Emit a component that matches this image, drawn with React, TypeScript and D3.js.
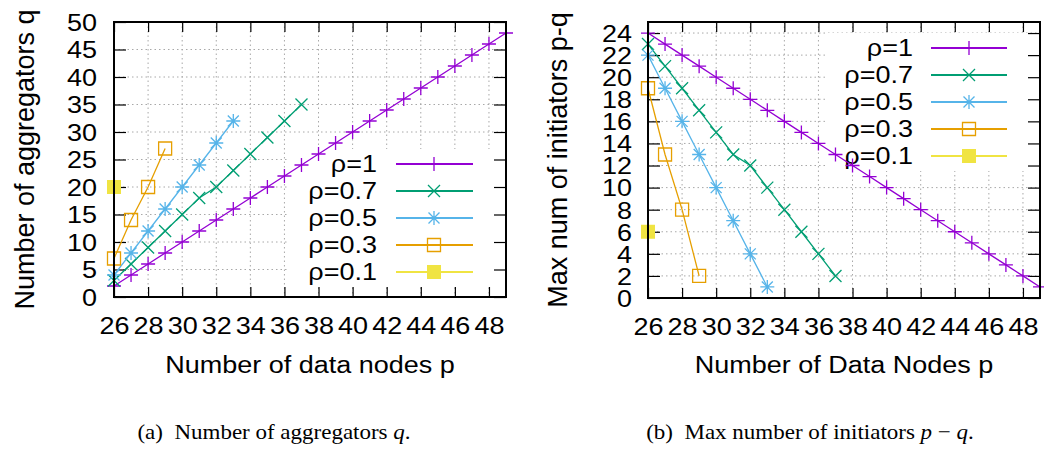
import React, { useEffect, useRef } from 'react';
import * as d3 from 'd3';

// data nodes p for each rho, and the values
const pRho1 = [26, 27, 28, 29, 30, 31, 32, 33, 34, 35, 36, 37, 38, 39, 40, 41, 42, 43, 44, 45, 46, 47, 48, 49];
const pRho07 = [26, 27, 28, 29, 30, 31, 32, 33, 34, 35, 36, 37];
const pRho05 = [26, 27, 28, 29, 30, 31, 32, 33];
const pRho03 = [26, 27, 28, 29];
const pRho01 = [26];

const aggRho1 = [2, 4, 6, 8, 10, 12, 14, 16, 18, 20, 22, 24, 26, 28, 30, 32, 34, 36, 38, 40, 42, 44, 46, 48];
const aggRho07 = [3, 6, 9, 12, 15, 18, 20, 23, 26, 29, 32, 35];
const aggRho05 = [4, 8, 12, 16, 20, 24, 28, 32];
const aggRho03 = [7, 14, 20, 27];
const aggRho01 = [20];

const initRho1 = [24, 23, 22, 21, 20, 19, 18, 17, 16, 15, 14, 13, 12, 11, 10, 9, 8, 7, 6, 5, 4, 3, 2, 1];
const initRho07 = [23, 21, 19, 17, 15, 13, 12, 10, 8, 6, 4, 2];
const initRho05 = [22, 19, 16, 13, 10, 7, 4, 1];
const initRho03 = [19, 13, 8, 2];
const initRho01 = [6];

const legendLabels = ['ρ=1', 'ρ=0.7', 'ρ=0.5', 'ρ=0.3', 'ρ=0.1'];
const xTicks = [26, 28, 30, 32, 34, 36, 38, 40, 42, 44, 46, 48];
const aggTicks = [0, 5, 10, 15, 20, 25, 30, 35, 40, 45, 50];
const initTicks = [0, 2, 4, 6, 8, 10, 12, 14, 16, 18, 20, 22, 24];

const colors = ['#9400d3', '#009e73', '#56b4e9', '#e69f00', '#f0e442'];
const markers = ['plus', 'cross', 'star', 'box', 'fbox'];
const xs = [pRho1, pRho07, pRho05, pRho03, pRho01];

const FONT = '"Liberation Sans", Arial, Helvetica, sans-serif';
const SQ = 0.86; // gnuplot text is a bit squat

function markerPath(kind: string): string {
  if (kind === 'plus') return 'M-7,0H7M0,-7V7';
  if (kind === 'cross') return 'M-6,-6L6,6M-6,6L6,-6';
  if (kind === 'star') return 'M-7,0H7M0,-7V7M-5.5,-5.5L5.5,5.5M-5.5,5.5L5.5,-5.5';
  if (kind === 'box') return 'M-6.5,-6.5H6.5V6.5H-6.5Z';
  return 'M-7,-7H7V7H-7Z';
}

type Panel = {
  left: number; right: number; top: number; bottom: number;
  yMax: number; yTicks: number[]; ys: number[][];
  yTitle: string; yTitleX: number; yLabelX: number;
  xTitle: string;
  legRight: number; legLine: [number, number]; legMark: number; legTop: number;
};

function drawPanel(svg: d3.Selection<SVGSVGElement, unknown, null, undefined>, p: Panel) {
  const g = svg.append('g');
  const x = d3.scaleLinear().domain([26, 49]).range([p.left, p.right]);
  const y = d3.scaleLinear().domain([0, p.yMax]).range([p.bottom, p.top]);

  // grid
  const grid = g.append('g').attr('stroke', '#a8a8a8').attr('stroke-width', 1).attr('stroke-dasharray', '1.5,3');
  xTicks.forEach(t => grid.append('line').attr('x1', x(t)).attr('x2', x(t)).attr('y1', p.top).attr('y2', p.bottom));
  p.yTicks.forEach(t => grid.append('line').attr('x1', p.left).attr('x2', p.right).attr('y1', y(t)).attr('y2', y(t)));

  // key box hides the grid behind it
  const rowGap = 27;
  g.append('rect')
    .attr('x', p.legRight - 88).attr('y', p.legTop - 15)
    .attr('width', p.right - (p.legRight - 88) - 1).attr('height', rowGap * 4 + 30)
    .attr('fill', '#fff');

  // axes, ticks pointing inward on all four sides
  const axB = g.append('g').attr('transform', `translate(0,${p.bottom})`)
    .call(d3.axisBottom(x).tickValues(xTicks).tickSize(-10).tickFormat(d3.format('d')));
  const axT = g.append('g').attr('transform', `translate(0,${p.top})`)
    .call(d3.axisTop(x).tickValues(xTicks).tickSize(-10).tickFormat(() => ''));
  const axL = g.append('g').attr('transform', `translate(${p.left},0)`)
    .call(d3.axisLeft(y).tickValues(p.yTicks).tickSize(-12).tickFormat(d3.format('d')));
  const axR = g.append('g').attr('transform', `translate(${p.right},0)`)
    .call(d3.axisRight(y).tickValues(p.yTicks).tickSize(-12).tickFormat(() => ''));
  [axB, axT, axL, axR].forEach(a => {
    a.select('.domain').remove();
    a.selectAll('line').attr('stroke', '#000').attr('stroke-width', 1.2);
  });
  axB.selectAll('text')
    .attr('y', 37 / SQ).attr('dy', 0).attr('transform', `scale(1,${SQ})`)
    .attr('font-size', 27).attr('font-family', FONT).attr('fill', '#000');
  axL.selectAll('text')
    .attr('x', p.yLabelX - p.left).attr('dy', '0.36em').attr('transform', `scale(1,${SQ})`)
    .attr('font-size', 27).attr('font-family', FONT).attr('fill', '#000');

  // legend
  legendLabels.forEach((lab, i) => {
    const ry = p.legTop + i * rowGap;
    g.append('g').attr('transform', `translate(${p.legRight},${ry}) scale(1,${SQ})`)
      .append('text').attr('text-anchor', 'end').attr('dy', '0.36em')
      .attr('font-size', 27).attr('font-family', FONT).text(lab);
    g.append('line').attr('x1', p.legLine[0]).attr('x2', p.legLine[1]).attr('y1', ry).attr('y2', ry)
      .attr('stroke', colors[i]).attr('stroke-width', 2);
    g.append('path').attr('d', markerPath(markers[i]))
      .attr('transform', `translate(${p.legMark},${ry})`)
      .attr('fill', markers[i] === 'fbox' ? colors[i] : 'none')
      .attr('stroke', markers[i] === 'fbox' ? 'none' : colors[i]).attr('stroke-width', 1.3);
  });

  // series
  const line = d3.line<[number, number]>().x(d => x(d[0])).y(d => y(d[1]));
  p.ys.forEach((vals, i) => {
    const pts: [number, number][] = vals.map((v, j) => [xs[i][j], v]);
    g.append('path').attr('d', line(pts)).attr('fill', 'none')
      .attr('stroke', colors[i]).attr('stroke-width', 1.3);
    g.selectAll(null).data(pts).join('path')
      .attr('d', markerPath(markers[i]))
      .attr('transform', d => `translate(${x(d[0])},${y(d[1])})`)
      .attr('fill', markers[i] === 'fbox' ? colors[i] : 'none')
      .attr('stroke', markers[i] === 'fbox' ? 'none' : colors[i]).attr('stroke-width', 1.3);
  });

  // frame
  g.append('rect').attr('x', p.left).attr('y', p.top)
    .attr('width', p.right - p.left).attr('height', p.bottom - p.top)
    .attr('fill', 'none').attr('stroke', '#000').attr('stroke-width', 2);

  // titles
  g.append('text').attr('transform', `translate(${p.yTitleX},${(p.top + p.bottom) / 2}) rotate(-90)`)
    .attr('text-anchor', 'middle').attr('font-size', 27).attr('font-family', FONT).text(p.yTitle);
  g.append('g').attr('transform', `translate(${(p.left + p.right) / 2},373) scale(1,${SQ})`)
    .append('text').attr('text-anchor', 'middle').attr('font-size', 27).attr('font-family', FONT).text(p.xTitle);
}

export default function App() {
  const ref = useRef<SVGSVGElement>(null);

  useEffect(() => {
    const svg = d3.select(ref.current as SVGSVGElement);
    svg.selectAll('*').remove();

    drawPanel(svg, {
      left: 114, right: 506, top: 22, bottom: 297,
      yMax: 50, yTicks: aggTicks,
      ys: [aggRho1, aggRho07, aggRho05, aggRho03, aggRho01],
      yTitle: 'Number of aggregators q', yTitleX: 34, yLabelX: 97,
      xTitle: 'Number of data nodes p',
      legRight: 377, legLine: [396, 473], legMark: 434, legTop: 164,
    });
    drawPanel(svg, {
      left: 648, right: 1040, top: 22, bottom: 298,
      yMax: 25, yTicks: initTicks,
      ys: [initRho1, initRho07, initRho05, initRho03, initRho01],
      yTitle: 'Max num of initiators p-q', yTitleX: 567, yLabelX: 632,
      xTitle: 'Number of Data Nodes p',
      legRight: 913, legLine: [931, 1007], legMark: 969, legTop: 48,
    });

    // sub-figure captions
    const serif = '"Liberation Serif", "Times New Roman", Times, serif';
    const capA = svg.append('g').attr('transform', 'translate(274,439) scale(1,0.92)')
      .append('text').attr('text-anchor', 'middle').attr('font-size', 23).attr('font-family', serif)
      .attr('xml:space', 'preserve');
    capA.append('tspan').text('(a)  Number of aggregators ');
    capA.append('tspan').attr('font-style', 'italic').text('q');
    capA.append('tspan').text('.');

    const capB = svg.append('g').attr('transform', 'translate(810,439) scale(1,0.92)')
      .append('text').attr('text-anchor', 'middle').attr('font-size', 23).attr('font-family', serif)
      .attr('xml:space', 'preserve');
    capB.append('tspan').text('(b)  Max number of initiators ');
    capB.append('tspan').attr('font-style', 'italic').text('p');
    capB.append('tspan').text(' − ');
    capB.append('tspan').attr('font-style', 'italic').text('q');
    capB.append('tspan').text('.');
  }, []);

  return (
    <svg ref={ref} width={1044} height={450}
      style={{ position: 'absolute', left: 0, top: 0, background: '#fff' }} />
  );
}
